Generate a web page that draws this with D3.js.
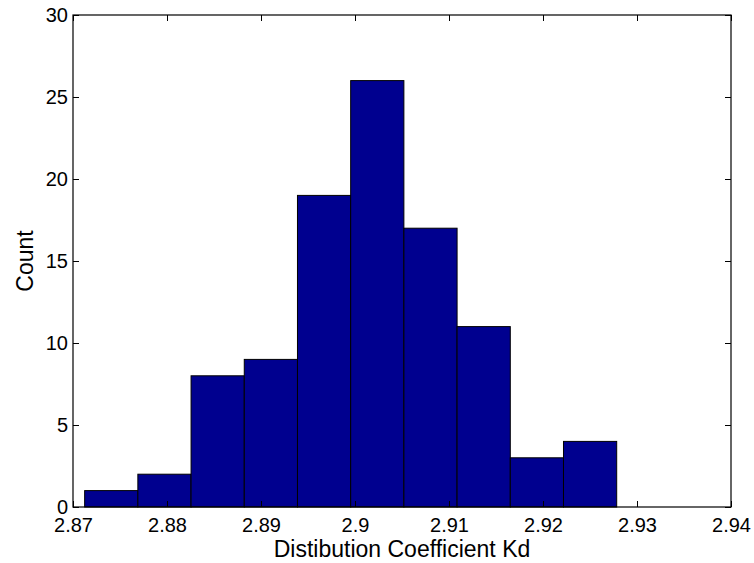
<!DOCTYPE html>
<html>
<head>
<meta charset="utf-8">
<script src="https://cdn.jsdelivr.net/npm/d3@7"></script>
<style>
  html, body { margin: 0; padding: 0; background: #fff; }
  svg { display: block; }
  text { font-family: Arial, "Liberation Sans", Helvetica, sans-serif; fill: #000; }
</style>
</head>
<body>
<svg id="chart" width="754" height="563"></svg>
<script>
// Histogram bin edges (11 edges -> 10 bins) and the count in each bin
const binEdges = [2.87124, 2.87690, 2.88256, 2.88822, 2.89388, 2.89954, 2.90520, 2.91086, 2.91652, 2.92218, 2.92784];
const counts = [1, 2, 8, 9, 19, 26, 17, 11, 3, 4];

// Axis tick values and their printed labels
const xTicks = [2.87, 2.88, 2.89, 2.90, 2.91, 2.92, 2.93, 2.94];
const xTickLabels = ["2.87", "2.88", "2.89", "2.9", "2.91", "2.92", "2.93", "2.94"];
const yTicks = [0, 5, 10, 15, 20, 25, 30];

const xLabel = "Distibution Coefficient Kd";
const yLabel = "Count";

const svg = d3.select("#chart");
const box = { left: 73, right: 731, top: 15, bottom: 507 };

const x = d3.scaleLinear().domain([2.87, 2.94]).range([box.left, box.right]);
const y = d3.scaleLinear().domain([0, 30]).range([box.bottom, box.top]);

const bins = counts.map((c, i) => ({ x0: binEdges[i], x1: binEdges[i + 1], count: c }));

// Bars
svg.append("g")
  .selectAll("rect")
  .data(bins)
  .join("rect")
  .attr("x", d => x(d.x0))
  .attr("y", d => y(d.count))
  .attr("width", d => x(d.x1) - x(d.x0))
  .attr("height", d => y(0) - y(d.count))
  .attr("fill", "#00008f")
  .attr("stroke", "#000")
  .attr("stroke-width", 1);

const tickLen = 6;

// Bottom axis (ticks point inward)
const xAxisB = d3.axisBottom(x).tickValues(xTicks)
  .tickFormat((d, i) => xTickLabels[i])
  .tickSizeInner(-tickLen).tickSizeOuter(0).tickPadding(11);
// Top axis (ticks only)
const xAxisT = d3.axisTop(x).tickValues(xTicks).tickFormat("")
  .tickSizeInner(-tickLen).tickSizeOuter(0);
// Left axis
const yAxisL = d3.axisLeft(y).tickValues(yTicks).tickFormat(d3.format("d"))
  .tickSizeInner(-tickLen).tickSizeOuter(0).tickPadding(5);
// Right axis (ticks only)
const yAxisR = d3.axisRight(y).tickValues(yTicks).tickFormat("")
  .tickSizeInner(-tickLen).tickSizeOuter(0);

function styleAxis(g) {
  g.select(".domain").remove();
  g.selectAll(".tick line").attr("stroke", "#000").attr("stroke-width", 1);
  g.selectAll(".tick text").attr("font-size", 20).attr("fill", "#000")
    .style("font-family", "Arial, 'Liberation Sans', Helvetica, sans-serif");
}

svg.append("g").attr("transform", `translate(0,${box.bottom})`).call(xAxisB).call(styleAxis);
svg.append("g").attr("transform", `translate(0,${box.top})`).call(xAxisT).call(styleAxis);
svg.append("g").attr("transform", `translate(${box.left},0)`).call(yAxisL).call(styleAxis);
svg.append("g").attr("transform", `translate(${box.right},0)`).call(yAxisR).call(styleAxis);

// Axes box
svg.append("rect")
  .attr("x", box.left).attr("y", box.top)
  .attr("width", box.right - box.left).attr("height", box.bottom - box.top)
  .attr("fill", "none").attr("stroke", "#000").attr("stroke-width", 1.2);

// Axis titles
svg.append("text")
  .attr("x", (box.left + box.right) / 2)
  .attr("y", 557)
  .attr("text-anchor", "middle")
  .attr("font-size", 23)
  .text(xLabel);

svg.append("text")
  .attr("transform", `translate(33,${(box.top + box.bottom) / 2}) rotate(-90)`)
  .attr("text-anchor", "middle")
  .attr("font-size", 23)
  .text(yLabel);
</script>
</body>
</html>
